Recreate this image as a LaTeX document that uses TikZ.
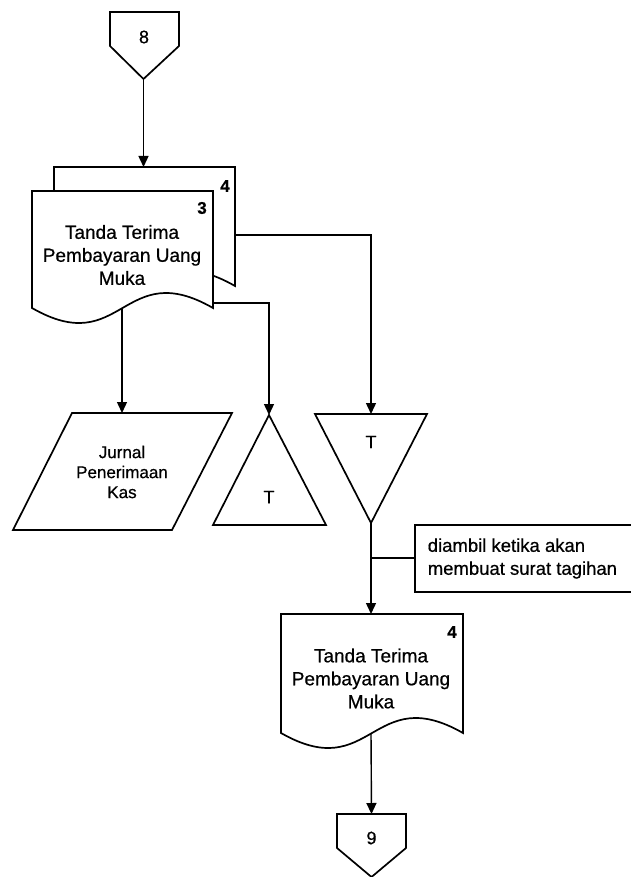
\documentclass[tikz,border=0pt]{standalone}
\usepackage{fontspec}
\setmainfont[FakeBold=0.6]{Liberation Sans}
\usetikzlibrary{arrows.meta}
\begin{document}
\begin{tikzpicture}[x=1pt,y=-1pt, line width=1.6pt, line join=miter,
  flow/.style={-{Triangle[length=11pt,width=10pt]}},
  plain/.style={line width=1.4pt},
  shapeline/.style={draw=black, line width=1.7pt},
  doctext/.style={align=center, font=\fontsize{19}{23}\selectfont, inner sep=0pt},
  smalltext/.style={align=center, font=\fontsize{17}{20}\selectfont, inner sep=0pt},
  notetext/.style={align=left, font=\fontsize{18.5}{23}\selectfont, inner sep=0pt, anchor=west},
  numtext/.style={font=\fontsize{17}{20}\selectfont\bfseries, inner sep=0pt},
  context/.style={font=\fontsize{18}{20}\selectfont, inner sep=0pt},
  ttext/.style={font=\fontsize{18}{20}\selectfont, inner sep=0pt}]
\useasboundingbox (0,0) rectangle (631,877);
\fill[white] (0,0) rectangle (631,877);

% connector 8
\draw[shapeline] (110,12) -- (179,12) -- (179,46) -- (143.5,79) -- (110,46) -- cycle;
\node[context] (c8) at (144,37) {8};
\coordinate (c8tip) at (143.5,79);
\coordinate (backtop) at (143.5,167);

% back document (copy 4)
\draw[shapeline, fill=white] (54,167) -- (235,167) -- (235,286)
  .. controls (144.5,234) and (144.5,338) .. (54,286) -- cycle;
\node[numtext] (n4a) at (225,186) {4};
% front document (copy 3)
\draw[shapeline, fill=white] (32,191) -- (213,191) -- (213,308)
  .. controls (122.5,256) and (122.5,360) .. (32,308) -- cycle;
\node[numtext] (n3) at (202,208) {3};
\node[doctext] (doc3) at (122,255) {Tanda Terima\\Pembayaran Uang\\Muka};

\coordinate (d3bottom) at (122,308);
\coordinate (d3right) at (213,303);
\coordinate (d4right) at (235,235);

% parallelogram
\draw[shapeline] (72,413) -- (232,413) -- (172,530) -- (13,530) -- cycle;
\node[smalltext] (jurnal) at (122,472) {Jurnal\\Penerimaan\\Kas};
\coordinate (jtop) at (122,413);

% upward triangle
\draw[shapeline] (269,415) -- (326,525) -- (213,525) -- cycle;
\node[ttext] (t1) at (269,497) {T};
\coordinate (t1top) at (269,415);

% inverted triangle
\draw[shapeline] (315,414) -- (427,414) -- (371,523) -- cycle;
\node[ttext] (t2) at (371,442) {T};
\coordinate (t2top) at (371,414);
\coordinate (t2tip) at (371,523);
\coordinate (branch) at (371,558);

% note box
\draw[shapeline] (640,525) -- (415,525) -- (415,592) -- (640,592);
\coordinate (noteleft) at (415,558);
\node[notetext] (note) at (427,558.5) {diambil ketika akan\\membuat surat tagihan};

% document 4 (lower)
\draw[shapeline, fill=white] (281,614) -- (463,614) -- (463,733)
  .. controls (372,681) and (372,785) .. (281,733) -- cycle;
\node[numtext] (n4b) at (452,632) {4};
\node[doctext] (doc4) at (371,678.5) {Tanda Terima\\Pembayaran Uang\\Muka};
\coordinate (d4top) at (371,614);
\coordinate (d4bottom) at (371,733);

% connector 9
\draw[shapeline] (337,814) -- (406,814) -- (406,848) -- (371.5,877) -- (337,848) -- cycle;
\node[context] (c9) at (371.5,838) {9};
\coordinate (c9top) at (371.5,814);

% connectors
\draw[plain, flow] (c8tip) -- (backtop);
\draw[plain, flow] (d3bottom) -- (jtop);
\draw[plain, flow] (d3right) -| (t1top);
\draw[plain, flow] (d4right) -| (t2top);
\draw[plain, flow] (t2tip) -- (d4top);
\draw[plain] (branch) -- (noteleft);
\draw[plain, flow] (d4bottom) -- (c9top);
\end{tikzpicture}
\end{document}
